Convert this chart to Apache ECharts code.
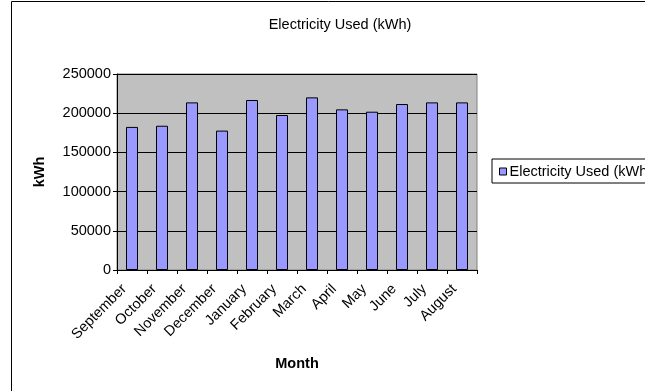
<!DOCTYPE html>
<html>
<head>
<meta charset="utf-8">
<script src="https://cdn.jsdelivr.net/npm/echarts@6/dist/echarts.min.js"></script>
<style>
  html, body { margin: 0; padding: 0; background: #fff; }
  #chart { width: 645px; height: 391px; }
</style>
</head>
<body>
<div id="chart"></div>
<script>
// Monthly electricity consumption, September through August
const months = ['September', 'October', 'November', 'December', 'January', 'February',
                'March', 'April', 'May', 'June', 'July', 'August'];
const kwhUsed = [182500, 184000, 213800, 177800, 216800, 197700,
                 220200, 204900, 201900, 211700, 213800, 213800];
const seriesName = 'Electricity Used (kWh)';
const yTicks = { min: 0, max: 250000, step: 50000 };

const FONT = '"Liberation Sans", Arial, sans-serif';
const FS = 14.5;

const chart = echarts.init(document.getElementById('chart'), null, { renderer: 'canvas' });

chart.setOption({
  animation: false,
  backgroundColor: '#ffffff',
  textStyle: { fontFamily: FONT },
  title: {
    text: seriesName,
    left: 335,
    textAlign: 'center',
    top: 12,
    textStyle: { fontFamily: FONT, fontSize: FS, fontWeight: 'normal', color: '#000' }
  },
  graphic: [{
    // outer chart frame
    type: 'rect',
    shape: { x: 11.5, y: 1.5, width: 700, height: 450 },
    style: { fill: 'none', stroke: '#000', lineWidth: 1 },
    silent: true,
    z: 0
  }],
  legend: {
    left: 492,
    top: 159,
    orient: 'vertical',
    padding: [5, 200, 4, 7],
    borderColor: '#000',
    borderWidth: 1,
    backgroundColor: '#fff',
    icon: 'rect',
    itemWidth: 7,
    itemHeight: 7,
    itemStyle: { borderColor: '#000', borderWidth: 1 },
    textStyle: { fontFamily: FONT, fontSize: FS, color: '#000', padding: [0, 0, 0, -2] },
    data: [seriesName]
  },
  grid: {
    left: 117,
    top: 74,
    width: 360,
    height: 196,
    show: true,
    backgroundColor: '#c0c0c0',
    borderColor: '#808080',
    borderWidth: 1,
    containLabel: false
  },
  xAxis: {
    type: 'category',
    data: months,
    name: 'Month',
    nameLocation: 'middle',
    nameGap: 86,
    nameTextStyle: { fontFamily: FONT, fontSize: 14.5, fontWeight: 'bold', color: '#000' },
    axisLine: { lineStyle: { color: '#000', width: 1 } },
    axisTick: { show: true, length: 4, lineStyle: { color: '#000' } },
    axisLabel: {
      rotate: 45, fontFamily: FONT, fontSize: FS, color: '#000',
      margin: 9, padding: [0, 11, 0, 0], interval: 0
    },
    splitLine: { show: false }
  },
  yAxis: {
    type: 'value',
    min: yTicks.min,
    max: yTicks.max,
    interval: yTicks.step,
    name: 'kWh',
    nameLocation: 'middle',
    nameGap: 70,
    nameTextStyle: { fontFamily: FONT, fontSize: 14.5, fontWeight: 'bold', color: '#000' },
    axisLine: { show: true, lineStyle: { color: '#000', width: 1 } },
    axisTick: { show: true, length: 4, lineStyle: { color: '#000' } },
    axisLabel: { fontFamily: FONT, fontSize: FS, color: '#000', margin: 6, formatter: v => String(v) },
    splitLine: { show: true, lineStyle: { color: '#000', width: 1 } }
  },
  series: [{
    name: seriesName,
    type: 'bar',
    data: kwhUsed,
    barWidth: 12,
    itemStyle: { color: '#9999ff', borderColor: '#000', borderWidth: 1 }
  }]
});
</script>
</body>
</html>
